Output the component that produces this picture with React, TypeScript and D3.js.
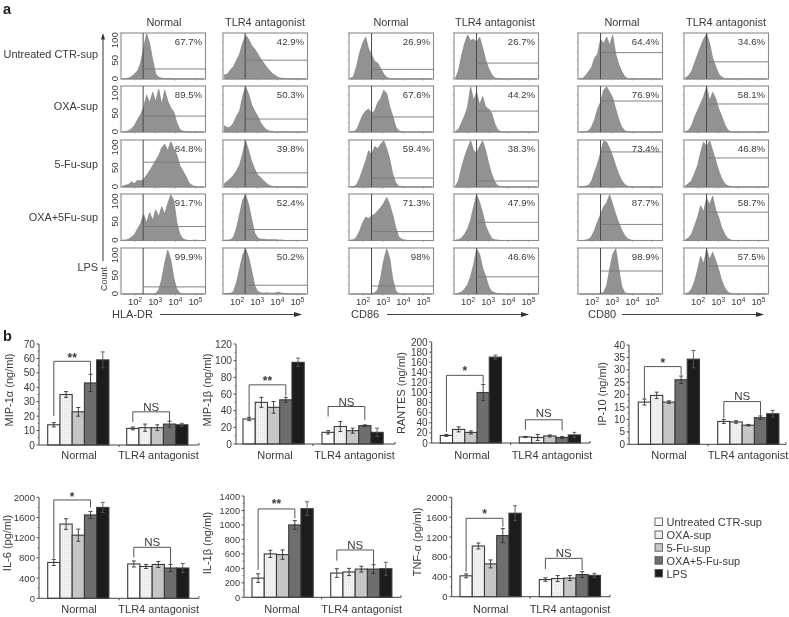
import React from "react";
import * as d3 from "d3";

// ---------- panel a data ----------
const rowLabels = ["Untreated CTR-sup", "OXA-sup", "5-Fu-sup", "OXA+5Fu-sup", "LPS"];
const columnTitles = ["Normal", "TLR4 antagonist", "Normal", "TLR4 antagonist", "Normal", "TLR4 antagonist"];
const markers = ["HLA-DR", "CD86", "CD80"];
const logTicks = [2, 3, 4, 5];
const countTicks = [0, 50, 100];

const percents = [
  ["67.7%", "89.5%", "84.8%", "91.7%", "99.9%"],
  ["42.9%", "50.3%", "39.8%", "52.4%", "50.2%"],
  ["26.9%", "67.6%", "59.4%", "71.3%", "98%"],
  ["26.7%", "44.2%", "38.3%", "47.9%", "46.6%"],
  ["64.4%", "76.9%", "73.4%", "87.7%", "98.9%"],
  ["34.6%", "58.1%", "46.8%", "58.7%", "57.5%"],
];
const gateCounts = [
  [24, 38, 58, 33, 17],
  [45, 31, 33, 26, 21],
  [23, 36, 21, 21, 19],
  [38, 50, 14, 43, 41],
  [63, 74, 82, 38, 55],
  [41, 67, 68, 67, 67],
];
const gateLog = [2.4, 2.4, 2.42, 2.42, 2.42, 2.42];

const hlaNormal = [
  [1, 1, 2, 6, 12, 20, 38, 75, 108, 85, 45, 12, 4, 2, 1, 1, 1, 0, 0, 0, 1, 0, 1, 0, 1, 0, 0, 0],
  [1, 1, 3, 8, 16, 30, 42, 60, 88, 70, 95, 72, 102, 66, 100, 74, 58, 48, 22, 6, 2, 1, 0, 0, 1, 0, 0, 0],
  [2, 4, 6, 12, 8, 16, 14, 18, 28, 38, 50, 62, 74, 92, 100, 85, 106, 90, 75, 50, 38, 25, 10, 4, 1, 0, 0, 0],
  [1, 1, 3, 8, 14, 28, 40, 62, 42, 66, 48, 72, 56, 80, 62, 88, 108, 95, 42, 15, 4, 1, 0, 0, 1, 0, 0, 0],
  [0, 0, 0, 0, 0, 0, 0, 0, 0, 0, 0, 1, 10, 35, 75, 105, 82, 38, 12, 2, 0, 0, 0, 0, 0, 0, 0, 0],
];
const hlaTlr4 = [
  [10, 12, 22, 30, 45, 60, 85, 105, 95, 80, 72, 60, 48, 38, 28, 20, 12, 8, 3, 2, 1, 1, 1, 0, 1, 0, 0, 0],
  [15, 10, 12, 22, 38, 50, 85, 108, 90, 65, 50, 38, 22, 12, 5, 2, 1, 0, 0, 0, 1, 0, 0, 0, 0, 0, 0, 0],
  [8, 14, 20, 28, 38, 52, 78, 108, 85, 60, 42, 28, 22, 14, 8, 3, 1, 1, 0, 0, 0, 1, 0, 0, 0, 0, 0, 0],
  [1, 1, 2, 8, 30, 62, 95, 108, 85, 50, 18, 6, 3, 3, 2, 2, 2, 2, 1, 1, 0, 0, 0, 0, 0, 0, 0, 0],
  [1, 1, 2, 6, 28, 60, 92, 108, 88, 55, 20, 6, 3, 2, 3, 2, 2, 3, 4, 2, 1, 0, 0, 0, 0, 0, 0, 0],
];
const cd86Normal = [
  [2, 6, 30, 62, 85, 100, 72, 58, 42, 38, 25, 12, 4, 1, 0, 0, 0, 0, 0, 0, 0, 1, 0, 0, 1, 0, 0, 0],
  [1, 1, 5, 22, 40, 50, 55, 45, 50, 70, 80, 100, 92, 60, 38, 12, 3, 1, 0, 0, 0, 0, 0, 0, 0, 0, 0, 0],
  [1, 1, 5, 20, 40, 60, 85, 75, 95, 90, 100, 108, 90, 65, 30, 10, 2, 1, 0, 0, 0, 0, 0, 0, 0, 0, 0, 0],
  [1, 2, 8, 22, 42, 55, 52, 58, 62, 70, 78, 88, 102, 85, 60, 30, 8, 3, 1, 0, 0, 0, 0, 0, 0, 0, 0, 0],
  [0, 0, 0, 0, 0, 0, 0, 0, 3, 10, 40, 80, 108, 85, 35, 8, 1, 0, 0, 0, 0, 0, 0, 0, 0, 0, 0, 0],
];
const cd86Tlr4 = [
  [2, 20, 55, 85, 105, 92, 95, 88, 100, 75, 45, 25, 10, 3, 1, 0, 0, 0, 0, 0, 0, 1, 0, 0, 0, 0, 0, 0],
  [2, 6, 22, 38, 60, 108, 75, 95, 65, 85, 60, 55, 45, 20, 5, 1, 0, 0, 0, 0, 0, 0, 1, 0, 0, 0, 0, 0],
  [2, 15, 45, 70, 90, 108, 85, 80, 95, 108, 85, 55, 30, 12, 3, 1, 0, 0, 0, 0, 0, 0, 0, 0, 0, 0, 0, 0],
  [1, 2, 6, 15, 28, 48, 80, 108, 90, 65, 35, 18, 5, 2, 1, 0, 0, 0, 0, 0, 0, 0, 0, 0, 0, 0, 0, 0],
  [1, 2, 5, 12, 22, 42, 70, 108, 95, 62, 42, 18, 6, 3, 1, 1, 0, 0, 0, 0, 0, 0, 0, 0, 0, 0, 0, 0],
];
const cd80Normal = [
  [1, 1, 8, 18, 28, 50, 60, 95, 85, 100, 80, 105, 60, 35, 18, 6, 1, 0, 1, 0, 0, 0, 1, 0, 0, 0, 0, 0],
  [0, 0, 1, 3, 12, 30, 55, 72, 100, 108, 95, 82, 55, 30, 12, 3, 1, 0, 0, 0, 0, 0, 0, 0, 0, 0, 0, 0],
  [0, 1, 2, 4, 14, 35, 55, 80, 108, 105, 90, 72, 50, 30, 15, 6, 2, 1, 0, 0, 0, 0, 0, 0, 0, 0, 0, 0],
  [0, 0, 1, 3, 10, 25, 45, 62, 80, 90, 108, 85, 62, 42, 25, 12, 4, 1, 0, 0, 0, 0, 0, 0, 0, 0, 0, 0],
  [0, 0, 0, 0, 0, 0, 0, 1, 4, 20, 60, 95, 108, 60, 18, 3, 1, 0, 0, 0, 0, 0, 0, 0, 0, 0, 0, 0],
];
const cd80Tlr4 = [
  [3, 8, 18, 38, 58, 78, 95, 108, 85, 50, 30, 12, 5, 1, 0, 0, 0, 0, 0, 0, 1, 0, 0, 0, 0, 0, 0, 0],
  [1, 4, 15, 35, 52, 68, 85, 108, 75, 95, 80, 55, 38, 18, 5, 1, 0, 0, 0, 0, 0, 0, 0, 0, 0, 0, 0, 0],
  [3, 8, 15, 32, 50, 80, 105, 95, 108, 85, 62, 38, 20, 8, 3, 1, 0, 0, 0, 0, 0, 0, 0, 0, 0, 0, 0, 0],
  [2, 6, 15, 35, 55, 82, 68, 100, 85, 105, 72, 55, 30, 15, 5, 1, 0, 0, 0, 0, 0, 0, 0, 0, 0, 0, 0, 0],
  [1, 3, 12, 30, 58, 90, 72, 108, 82, 100, 80, 58, 32, 15, 5, 1, 0, 0, 0, 0, 0, 0, 0, 0, 0, 0, 0, 0],
];
const histograms = [hlaNormal, hlaTlr4, cd86Normal, cd86Tlr4, cd80Normal, cd80Tlr4];

// ---------- panel b data ----------
const treatments = ["Untreated CTR-sup", "OXA-sup", "5-Fu-sup", "OXA+5-Fu-sup", "LPS"];
const groups = ["Normal", "TLR4 antagonist"];

const mip1aValues = [[14, 35, 23, 43, 59], [11.5, 12, 12, 14.5, 14]];
const mip1aErrors = [[1.5, 2, 3, 6, 5.5], [1, 2.5, 2, 2, 1]];
const mip1bValues = [[30, 50, 44, 53, 98], [14, 21, 16, 22, 14]];
const mip1bErrors = [[2, 6, 7, 3, 5], [2, 6, 3, 1, 5]];
const rantesValues = [[15, 27, 21, 100, 170], [12, 11, 14, 11, 16]];
const rantesErrors = [[2, 5, 3, 16, 4], [1, 6, 2, 2, 5]];
const ip10Values = [[17, 19.7, 17, 26, 34.3], [9.2, 9, 7.7, 10.7, 12.3]];
const ip10Errors = [[1.2, 1.3, 0.5, 1.5, 3.5], [0.8, 0.5, 0.3, 0.7, 1.3]];
const il6Values = [[710, 1470, 1250, 1650, 1800], [680, 630, 670, 600, 600]];
const il6Errors = [[60, 105, 120, 70, 100], [60, 40, 60, 70, 90]];
const il1bValues = [[265, 600, 590, 1000, 1225], [335, 350, 390, 390, 395]];
const il1bErrors = [[60, 50, 65, 60, 95], [60, 50, 40, 60, 90]];
const tnfValues = [[420, 1020, 660, 1230, 1680], [345, 365, 375, 445, 430]];
const tnfErrors = [[40, 60, 80, 140, 150], [35, 60, 50, 60, 40]];

// [top of bracket, left leg end, right leg end, label level] in the axis's units
const mip1aBrackets = [[58, 20, 48, 61], [23, 16, 15.5, 27]];
const mip1bBrackets = [[71, 31, 58, 77], [45, 33, 29, 51]];
const rantesBrackets = [[134, 22, 118, 144], [46, 26, 25, 60]];
const ip10Brackets = [[31.3, 18.3, 28, 33], [17.2, 10.5, 11.5, 19.5]];
const il6Brackets = [[1947, 790, 1800, 2030], [1010, 810, 680, 1130]];
const il1bBrackets = [[1221, 378, 1092, 1300], [654, 507, 387, 730]];
const tnfBrackets = [[1577, 503, 1410, 1690], [772, 557, 537, 880]];

const FONT = "'Liberation Sans', Arial, sans-serif";
const TEXT = "#3a3a3a";
const barFills = ["#ffffff", "url(#dots)", "url(#fine)", "#6e6e6e", "#1c1c1c"];

const charts = [
  { name: "MIP-1α (ng/ml)", values: mip1aValues, errors: mip1aErrors, brackets: mip1aBrackets, stars: "**", max: 70, step: 10, ax: 39, ay: 445, top: 344, b0: 47.7, b1: 126.7, end: 199, mid: 119, lx: 9, ly: 390, c0: 79, c1: 158.5, base: 459, tf: 10.2 },
  { name: "MIP-1β (ng/ml)", values: mip1bValues, errors: mip1bErrors, brackets: mip1bBrackets, stars: "**", max: 120, step: 20, ax: 236, ay: 444, top: 344, b0: 243, b1: 322, end: 395, mid: 313, lx: 207, ly: 390, c0: 275, c1: 354.5, base: 459, tf: 10.2 },
  { name: "RANTES (ng/ml)", values: rantesValues, errors: rantesErrors, brackets: rantesBrackets, stars: "*", max: 200, step: 20, ax: 431.7, ay: 443, top: 342, b0: 440.3, b1: 519.3, end: 590, mid: 510.7, lx: 401, ly: 393, c0: 472, c1: 552, base: 459, tf: 10 },
  { name: "IP-10 (ng/ml)", values: ip10Values, errors: ip10Errors, brackets: ip10Brackets, stars: "*", max: 40, step: 5, ax: 629, ay: 444.3, top: 345, b0: 638.3, b1: 717.7, end: 786, mid: 708, lx: 602, ly: 394, c0: 669, c1: 748, base: 459, tf: 10 },
  { name: "IL-6 (pg/ml)", values: il6Values, errors: il6Errors, brackets: il6Brackets, stars: "*", max: 2000, step: 400, ax: 39, ay: 598.3, top: 497.3, b0: 47.7, b1: 127.7, end: 199, mid: 119, lx: 7, ly: 543, c0: 79, c1: 158.7, base: 613, tf: 9.6 },
  { name: "IL-1β (ng/ml)", values: il1bValues, errors: il1bErrors, brackets: il1bBrackets, stars: "**", max: 1400, step: 200, ax: 244, ay: 597.3, top: 496, b0: 252, b1: 330.7, end: 401, mid: 321.7, lx: 207, ly: 543, c0: 282, c1: 361.7, base: 613, tf: 9.2 },
  { name: "TNF-α (pg/ml)", values: tnfValues, errors: tnfErrors, brackets: tnfBrackets, stars: "*", max: 2000, step: 400, ax: 451.7, ay: 596.7, top: 497.3, b0: 460, b1: 539.3, end: 610, mid: 530, lx: 417, ly: 542, c0: 490.7, c1: 570, base: 613, tf: 9.6 },
];

const colLefts = [121, 223, 349, 454, 578, 684];
const colCenters = [164, 265, 391, 495, 622, 726];
const rowBoxes = [[33, 79], [86, 132], [140, 187], [194, 240.5], [248, 294]];
const rowLabelY = [58, 110, 168, 221, 271];
const axisLabels = [
  { x: 112, a0: 160, a1: 301 },
  { x: 351, a0: 387, a1: 528 },
  { x: 588, a0: 622, a1: 763 },
];
const legendY = [522, 535, 547.7, 560.7, 573.5];

function Histogram({ col, row }: { col: number; row: number }) {
  const left = colLefts[col];
  const [top, bottom] = rowBoxes[row];
  const x = d3.scaleLog().domain([Math.pow(10, 1.3), Math.pow(10, 5.5)]).range([left, left + 84.5]);
  const y = d3.scaleLinear().domain([0, 110]).range([bottom, top]);
  const binned = histograms[col][row];
  const area = d3
    .area<number>()
    .x((_, i) => x(Math.pow(10, 1.3 + (i + 0.5) * 0.15)))
    .y0(bottom)
    .y1((d) => y(d))
    .curve(d3.curveLinear);
  const gx = x(Math.pow(10, gateLog[col]));
  const gy = y(gateCounts[col][row]);
  return (
    <g>
      <path d={area(binned) ?? ""} fill="#929292" stroke="#808080" strokeWidth={0.7} />
      <rect x={left} y={top} width={84.5} height={bottom - top} fill="none" stroke="#8a8a8a" strokeWidth={1.1} />
      <line x1={gx} x2={gx} y1={top} y2={bottom} stroke="#4a4a4a" strokeWidth={1} />
      <line x1={gx} x2={left + 84.5} y1={gy} y2={gy} stroke="#777" strokeWidth={0.9} />
      {d3.range(0, 6).map((i) => {
        const ty = top + ((bottom - top) * i) / 5;
        return <line key={i} x1={left - 1.5} x2={left} y1={ty} y2={ty} stroke="#999" strokeWidth={0.6} />;
      })}
      {logTicks.map((t) => (
        <line key={t} x1={x(Math.pow(10, t))} x2={x(Math.pow(10, t))} y1={bottom} y2={bottom + 1.5} stroke="#888" strokeWidth={0.7} />
      ))}
      <text x={left + 81} y={top + 12} textAnchor="end" fontSize={9.6} fill={TEXT}>
        {percents[col][row]}
      </text>
      {col === 0 &&
        countTicks.map((t) => (
          <text key={t} transform={`translate(${left - 3},${y(t * 0.95) + (t === 0 ? -0.5 : 1)}) rotate(-90)`} textAnchor="middle" fontSize={9.6} fill={TEXT}>
            {t}
          </text>
        ))}
      {row === 4 &&
        logTicks.map((t) => (
          <text key={t} x={x(Math.pow(10, t))} y={bottom + 10.5} textAnchor="middle" fontSize={9.4} fill={TEXT}>
            10
            <tspan dy={-3} fontSize={6.5}>{t}</tspan>
          </text>
        ))}
    </g>
  );
}

function BarChart({ c }: { c: (typeof charts)[number] }) {
  const y = d3.scaleLinear().domain([0, c.max]).range([c.ay, c.top]);
  const starts = [c.b0, c.b1];
  const barWidth = 61.2;
  const scales = starts.map((s) =>
    d3.scaleBand<number>().domain(d3.range(5)).range([s, s + barWidth]).padding(0)
  );
  const major = d3.range(0, c.max + c.step / 2, c.step);
  const minor = d3.range(c.step / 2, c.max, c.step);
  return (
    <g>
      {c.values.map((vals, g) =>
        vals.map((v, i) => {
          const bx = scales[g](i) ?? 0;
          const bw = scales[g].bandwidth();
          const cx = bx + bw / 2;
          const e = c.errors[g][i];
          return (
            <g key={`${g}-${i}`}>
              <rect x={bx} y={y(v)} width={bw} height={c.ay - y(v)} fill={barFills[i]} stroke="#3a3a3a" strokeWidth={1.1} />
              <path
                d={`M${cx},${y(v + e)}V${y(v - e)}M${cx - 2},${y(v + e)}H${cx + 2}M${cx - 2},${y(v - e)}H${cx + 2}`}
                stroke={i === 4 ? "#555" : "#333"}
                strokeWidth={0.9}
                fill="none"
              />
            </g>
          );
        })
      )}
      <line x1={c.ax} x2={c.ax} y1={c.ay} y2={c.top} stroke="#444" strokeWidth={1} />
      <line x1={c.ax} x2={c.end} y1={c.ay} y2={c.ay} stroke="#444" strokeWidth={1} />
      <line x1={c.mid} x2={c.mid} y1={c.ay} y2={c.ay + 2} stroke="#444" strokeWidth={1} />
      <line x1={c.end} x2={c.end} y1={c.ay} y2={c.ay - 2} stroke="#444" strokeWidth={1} />
      {major.map((t) => (
        <g key={t}>
          <line x1={c.ax - 2.5} x2={c.ax} y1={y(t)} y2={y(t)} stroke="#444" strokeWidth={0.9} />
          <text x={c.ax - 4} y={y(t) + 3.5} textAnchor="end" fontSize={c.tf} fill={TEXT}>
            {t}
          </text>
        </g>
      ))}
      {minor.map((t) => (
        <line key={t} x1={c.ax - 1.5} x2={c.ax} y1={y(t)} y2={y(t)} stroke="#555" strokeWidth={0.7} />
      ))}
      {c.brackets.map((b, g) => {
        const x0 = (scales[g](0) ?? 0) + scales[g].bandwidth() / 2;
        const x1 = (scales[g](3) ?? 0) + scales[g].bandwidth() / 2;
        return (
          <g key={g}>
            <path
              d={`M${x0},${y(b[1])}V${y(b[0])}H${x1}V${y(b[2])}`}
              fill="none"
              stroke="#555"
              strokeWidth={1}
            />
            {g === 0 ? (
              <text x={(x0 + x1) / 2} y={y(b[3]) + 5} textAnchor="middle" fontSize={12} fontWeight="bold" fill={TEXT}>
                {c.stars}
              </text>
            ) : (
              <text x={(x0 + x1) / 2} y={y(b[3]) + 4.5} textAnchor="middle" fontSize={11.5} fill={TEXT}>
                NS
              </text>
            )}
          </g>
        );
      })}
      <text transform={`translate(${c.lx + 4},${c.ly}) rotate(-90)`} textAnchor="middle" fontSize={11} fill={TEXT}>
        {c.name}
      </text>
      <text x={c.c0} y={c.base} textAnchor="middle" fontSize={11} fill={TEXT}>{groups[0]}</text>
      <text x={c.c1} y={c.base} textAnchor="middle" fontSize={11} fill={TEXT}>{groups[1]}</text>
    </g>
  );
}

export default function App() {
  return (
    <svg
      width={789}
      height={617}
      viewBox="0 0 789 617"
      style={{ position: "absolute", left: 0, top: 0, display: "block", background: "#fff", fontFamily: FONT }}
    >
      <defs>
        <filter id="soft" x="0" y="0" width="100%" height="100%">
          <feGaussianBlur stdDeviation="0.38" />
        </filter>
        <pattern id="dots" width="2" height="2" patternUnits="userSpaceOnUse">
          <rect width="2" height="2" fill="#f2f2f2" />
          <rect width="1" height="1" fill="#e2e2e2" />
        </pattern>
        <pattern id="fine" width="2" height="2" patternUnits="userSpaceOnUse">
          <rect width="2" height="2" fill="#c8c8c8" />
          <rect width="1" height="1" fill="#bebebe" />
        </pattern>
        <marker id="head" viewBox="0 0 8 6" refX="7" refY="3" markerWidth="8" markerHeight="6" markerUnits="userSpaceOnUse" orient="auto">
          <path d="M0,0.5L8,3L0,5.5Z" fill="#333" />
        </marker>
      </defs>
      <g filter="url(#soft)">
        <rect width={789} height={617} fill="#fff" />
        <text x={3} y={14} fontSize={14.5} fontWeight="bold" fill="#222">a</text>
        <text x={3} y={341} fontSize={14.5} fontWeight="bold" fill="#222">b</text>

        {columnTitles.map((t, i) => (
          <text key={i} x={colCenters[i]} y={25.5} textAnchor="middle" fontSize={10.9} fill={TEXT}>{t}</text>
        ))}
        {rowLabels.map((t, i) => (
          <text key={t} x={98} y={rowLabelY[i]} textAnchor="end" fontSize={10.9} fill={TEXT}>{t}</text>
        ))}

        <line x1={103} x2={103} y1={38} y2={261} stroke="#666" strokeWidth={1.3} />
        <path d="M103,33L105,39.5L101,39.5Z" fill="#333" />
        <text transform="translate(106.5,279) rotate(-90)" textAnchor="middle" fontSize={9} fill={TEXT}>Count</text>

        {colLefts.map((_, col) =>
          rowBoxes.map((_, row) => <Histogram key={`${col}-${row}`} col={col} row={row} />)
        )}

        {axisLabels.map((a, i) => (
          <g key={i}>
            <text x={a.x} y={318} fontSize={11} fill={TEXT}>{markers[i]}</text>
            <line x1={a.a0} x2={a.a1} y1={314.5} y2={314.5} stroke="#444" strokeWidth={1} markerEnd="url(#head)" />
          </g>
        ))}

        {charts.map((c) => <BarChart key={c.name} c={c} />)}

        {treatments.map((t, i) => (
          <g key={t}>
            <rect x={655} y={legendY[i] - 4} width={7.5} height={7.5} fill={barFills[i]} stroke="#555" strokeWidth={0.9} />
            <text x={666.5} y={legendY[i] + 4} fontSize={11} fill={TEXT}>{t}</text>
          </g>
        ))}
      </g>
    </svg>
  );
}
